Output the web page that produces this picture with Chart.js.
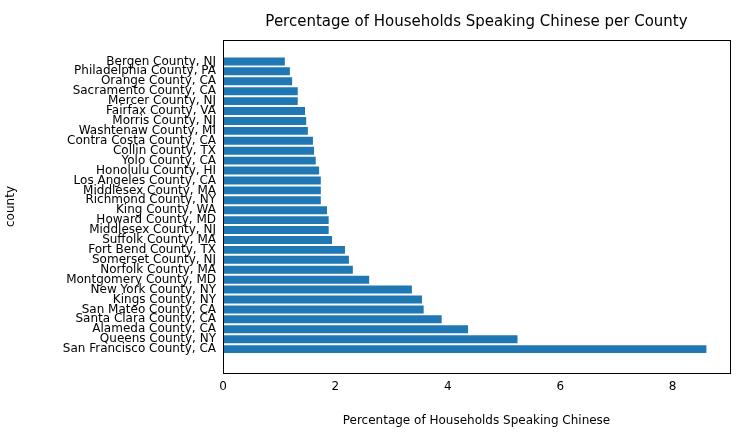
<!DOCTYPE html>
<html lang="en">
<head>
<meta charset="UTF-8">
<title>Chinese speaking households</title>
<script src="https://cdn.jsdelivr.net/npm/chart.js"></script>
<style>
  body { margin: 0; background: #fff; }
  #wrap { width: 748px; height: 432px; }
</style>
</head>
<body>
<div id="wrap"><canvas id="chart" width="748" height="432"></canvas></div>
<script>
    // counties, top of chart first
    const counties = [
        'Bergen County, NJ', 'Philadelphia County, PA', 'Orange County, CA', 'Sacramento County, CA',
        'Mercer County, NJ', 'Fairfax County, VA', 'Morris County, NJ', 'Washtenaw County, MI',
        'Contra Costa County, CA', 'Collin County, TX', 'Yolo County, CA', 'Honolulu County, HI',
        'Los Angeles County, CA', 'Middlesex County, MA', 'Richmond County, NY', 'King County, WA',
        'Howard County, MD', 'Middlesex County, NJ', 'Suffolk County, MA', 'Fort Bend County, TX',
        'Somerset County, NJ', 'Norfolk County, MA', 'Montgomery County, MD', 'New York County, NY',
        'Kings County, NY', 'San Mateo County, CA', 'Santa Clara County, CA', 'Alameda County, CA',
        'Queens County, NY', 'San Francisco County, CA'
    ];
    const percents = [
        1.10, 1.19, 1.23, 1.33, 1.33, 1.46, 1.48, 1.51, 1.60, 1.62,
        1.65, 1.71, 1.74, 1.74, 1.74, 1.85, 1.88, 1.88, 1.94, 2.17,
        2.24, 2.31, 2.60, 3.36, 3.54, 3.57, 3.89, 4.36, 5.24, 8.60
    ];
    const xTicks = [0, 2, 4, 6, 8];

    const font = { family: 'DejaVu Sans', size: 12 };

    // title + full axes box, matplotlib style
    const framePlugin = {
        id: 'frame',
        afterDraw(chart) {
            const { ctx, chartArea: a } = chart;
            ctx.save();
            ctx.strokeStyle = '#000';
            ctx.lineWidth = 1;
            ctx.strokeRect(a.left + 0.5, a.top + 0.5, a.right - a.left, a.bottom - a.top);
            ctx.fillStyle = '#000';
            ctx.font = '15px DejaVu Sans';
            ctx.textAlign = 'center';
            ctx.textBaseline = 'middle';
            ctx.fillText('Percentage of Households Speaking Chinese per County', (a.left + a.right) / 2, 22);
            ctx.restore();
        }
    };

    new Chart(document.getElementById('chart'), {
        type: 'bar',
        data: {
            datasets: [{
                data: percents.map((v, i) => ({ x: v, y: i })),
                backgroundColor: '#1f77b4',
                barPercentage: 0.8,
                categoryPercentage: 1
            }]
        },
        options: {
            indexAxis: 'y',
            responsive: false,
            animation: false,
            layout: { padding: { top: 40, right: 18, left: 0, bottom: 0 } },
            plugins: { legend: { display: false }, tooltip: { enabled: false } },
            scales: {
                x: {
                    type: 'linear',
                    min: 0, max: 9.02,
                    afterBuildTicks: s => { s.ticks = xTicks.map(v => ({ value: v })); },
                    afterFit: s => { s.height = 59; },
                    grid: { display: false, tickLength: 4 },
                    border: { color: '#000' },
                    ticks: { color: '#000', font, maxRotation: 0 },
                    title: { display: true, text: 'Percentage of Households Speaking Chinese', color: '#000', font, padding: { top: 4 } }
                },
                y: {
                    type: 'linear',
                    reverse: true,
                    min: -1.6, max: 30.85,
                    afterBuildTicks: s => { s.ticks = counties.map((c, i) => ({ value: i })); },
                    afterFit: s => { s.width = 223; },
                    grid: { display: false, tickLength: 4 },
                    border: { color: '#000' },
                    ticks: { color: '#000', font, autoSkip: false, padding: 3, callback: v => counties[v] },
                    title: { display: true, text: 'county', color: '#000', font }
                }
            }
        },
        plugins: [framePlugin]
    });
</script>
</body>
</html>
